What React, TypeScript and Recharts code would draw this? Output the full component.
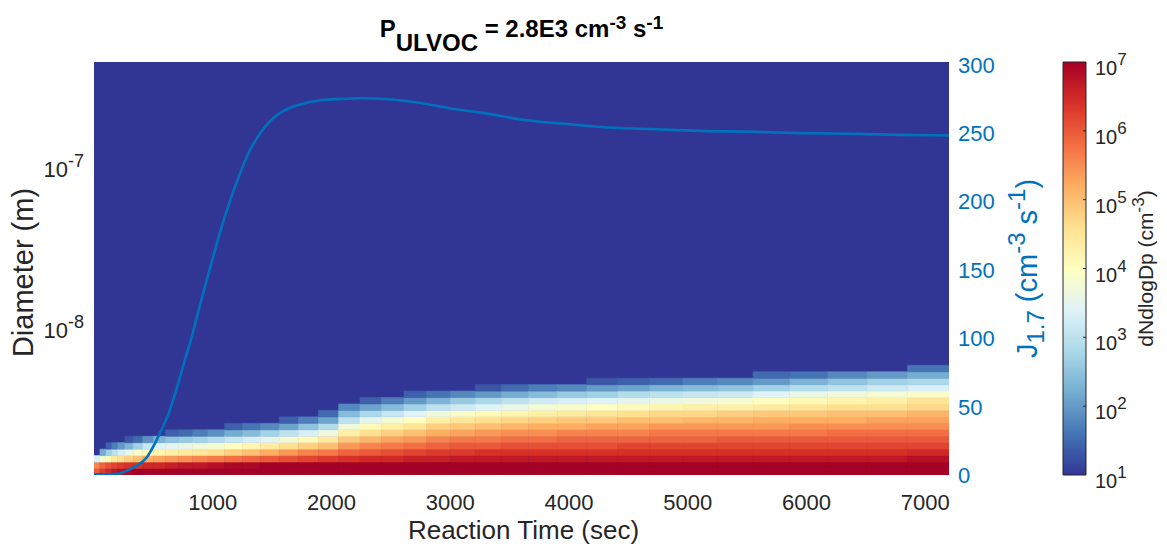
import React from 'react';
import { ComposedChart, Line, XAxis, YAxis, ReferenceArea, ReferenceLine } from 'recharts';

// ---- data ----

// time bin edges of the model output (s)
const timeEdges = [
  0, 50, 100, 150, 200, 260, 330, 410, 500, 600, 710, 830, 960, 1100, 1250, 1400, 1560, 1720,
  1890, 2060, 2240, 2420, 2610, 2800, 3000, 3210, 3430, 3660, 3900, 4150, 4410, 4680, 4960,
  5250, 5550, 5860, 6180, 6510, 6850, 7200,
];

// diameter bin edges (nm)
const diameterEdgesNm = [
  1.171, 1.285, 1.409, 1.546, 1.696, 1.861, 2.041, 2.239, 2.456, 2.695, 2.956, 3.243, 3.558,
  3.903, 4.282, 4.697, 5.153, 5.653, 6.202,
];

// log10 dNdlogDp (cm^-3) for every time column, smallest diameter bin first
const logConc: number[][] = [
  [6.0, 5.6, 3.3],
  [6.3, 5.9, 3.8, 2.2],
  [6.5, 6.1, 4.1, 2.7, 1.4],
  [6.7, 6.2, 4.4, 3.0, 1.7],
  [6.8, 6.3, 4.6, 3.3, 2.0],
  [6.9, 6.4, 4.8, 3.6, 2.3, 1.3],
  [7.0, 6.4, 5.0, 3.9, 2.7, 1.5],
  [7.1, 6.5, 5.2, 4.1, 3.1, 1.9],
  [7.1, 6.5, 5.3, 4.2, 3.4, 2.3],
  [7.2, 6.6, 5.4, 4.3, 3.5, 2.5, 1.4],
  [7.2, 6.7, 5.5, 4.4, 3.6, 2.6, 1.5],
  [7.3, 6.7, 5.6, 4.5, 3.7, 2.7, 1.7],
  [7.3, 6.8, 5.7, 4.6, 3.8, 2.9, 1.9],
  [7.3, 6.9, 5.8, 4.8, 4.0, 3.1, 2.2, 1.4],
  [7.4, 6.9, 5.9, 5.0, 4.2, 3.3, 2.4, 1.6],
  [7.4, 7.0, 6.0, 5.2, 4.4, 3.5, 2.7, 1.8],
  [7.4, 7.0, 6.1, 5.4, 4.6, 3.8, 3.0, 2.1, 1.4],
  [7.4, 7.0, 6.2, 5.6, 4.8, 4.1, 3.3, 2.5, 1.7],
  [7.5, 7.1, 6.3, 5.7, 5.0, 4.4, 3.7, 2.9, 2.1, 1.5],
  [7.5, 7.1, 6.4, 5.9, 5.4, 4.9, 4.3, 3.7, 3.0, 2.4, 1.8],
  [7.5, 7.1, 6.5, 6.0, 5.6, 5.1, 4.6, 4.1, 3.5, 2.8, 2.1, 1.4],
  [7.5, 7.2, 6.5, 6.1, 5.7, 5.3, 4.8, 4.3, 3.8, 3.1, 2.4, 1.7],
  [7.5, 7.2, 6.6, 6.2, 5.8, 5.4, 5.0, 4.5, 4.0, 3.4, 2.7, 2.0, 1.4],
  [7.5, 7.2, 6.6, 6.3, 5.9, 5.6, 5.2, 4.8, 4.3, 3.7, 3.0, 2.3, 1.6],
  [7.5, 7.2, 6.7, 6.3, 6.0, 5.7, 5.3, 4.9, 4.5, 3.9, 3.2, 2.6, 1.8],
  [7.5, 7.2, 6.7, 6.4, 6.0, 5.7, 5.4, 5.0, 4.6, 4.1, 3.4, 2.8, 2.0, 1.3],
  [7.5, 7.2, 6.7, 6.4, 6.1, 5.8, 5.5, 5.1, 4.7, 4.2, 3.6, 3.0, 2.2, 1.5],
  [7.5, 7.2, 6.7, 6.4, 6.1, 5.8, 5.5, 5.2, 4.8, 4.3, 3.8, 3.2, 2.4, 1.7],
  [7.6, 7.3, 6.7, 6.4, 6.1, 5.9, 5.6, 5.2, 4.9, 4.4, 3.9, 3.3, 2.6, 1.8],
  [7.6, 7.3, 6.7, 6.4, 6.1, 5.9, 5.6, 5.3, 4.9, 4.5, 4.0, 3.4, 2.7, 2.0, 1.3],
  [7.6, 7.3, 6.7, 6.4, 6.2, 5.9, 5.6, 5.3, 5.0, 4.6, 4.1, 3.5, 2.9, 2.1, 1.4],
  [7.6, 7.3, 6.7, 6.4, 6.2, 5.9, 5.7, 5.4, 5.0, 4.7, 4.2, 3.6, 3.0, 2.3, 1.5],
  [7.6, 7.3, 6.7, 6.4, 6.2, 5.9, 5.7, 5.4, 5.1, 4.7, 4.3, 3.7, 3.1, 2.4, 1.7],
  [7.6, 7.3, 6.7, 6.4, 6.2, 6.0, 5.7, 5.4, 5.1, 4.8, 4.3, 3.8, 3.2, 2.5, 1.8],
  [7.6, 7.3, 6.7, 6.4, 6.2, 6.0, 5.7, 5.4, 5.2, 4.9, 4.4, 4.0, 3.4, 2.7, 2.0, 1.5],
  [7.6, 7.3, 6.7, 6.4, 6.2, 6.0, 5.7, 5.5, 5.2, 4.9, 4.5, 4.1, 3.6, 2.9, 2.3, 1.6],
  [7.6, 7.3, 6.7, 6.4, 6.2, 6.0, 5.8, 5.5, 5.2, 5.0, 4.6, 4.2, 3.7, 3.0, 2.5, 1.8],
  [7.6, 7.3, 6.7, 6.4, 6.2, 6.0, 5.8, 5.5, 5.3, 5.0, 4.6, 4.3, 3.8, 3.2, 2.7, 2.0],
  [7.6, 7.3, 6.8, 6.5, 6.2, 6.0, 5.8, 5.5, 5.3, 5.1, 4.7, 4.5, 3.9, 3.3, 2.8, 2.2, 1.6],
];

// J1.7 nucleation rate (cm^-3 s^-1)
const jTime = [
  0, 100, 200, 276, 360, 445, 500, 557, 641, 712, 768, 810, 895, 979, 1063, 1148, 1232, 1316,
  1401, 1485, 1612, 1738, 1907, 2076, 2245, 2456, 2582, 2751, 3004, 3257, 3595, 3932, 4270,
  4692, 5114, 5536, 5958, 6380, 6802, 7200,
];
const jRate = [
  0.6, 0.6, 0.8, 3.1, 6.8, 13, 21, 31, 48, 68, 85, 97, 125, 152, 178, 201, 221, 238, 250, 259,
  267, 271, 274, 275, 275.5, 275, 274, 272, 268, 265, 260, 257, 254.5, 253, 251.6, 251, 250,
  249.5, 248.7, 248.2,
];

const timeTicks = [1000, 2000, 3000, 4000, 5000, 6000, 7000];
const diameterTicks = [1e-8, 1e-7];
const jTicks = [0, 50, 100, 150, 200, 250, 300];
const colorbarTicks = [1e1, 1e2, 1e3, 1e4, 1e5, 1e6, 1e7];

const DP_MIN = 1.17e-9;
const DP_MAX = 4.4e-7;
const T_MAX = 7200;
const J_MAX = 302;
const C_MIN = 1e1;
const C_MAX = 1e7;

// ---- styling helpers ----

const FONT = '"Liberation Sans", Arial, Helvetica, sans-serif';
const TXT = '#262626';
const J_COLOR = '#0072BD';
const TICK_FS = 22;
const SUP_FS = 18;

// RdYlBu, blue (low) to red (high)
const RDYLBU = [
  '#313695', '#4575b4', '#74add1', '#abd9e9', '#e0f3f8', '#ffffbf',
  '#fee090', '#fdae61', '#f46d43', '#d73027', '#a50026',
];

function hexToRgb(h: string) {
  return [parseInt(h.slice(1, 3), 16), parseInt(h.slice(3, 5), 16), parseInt(h.slice(5, 7), 16)];
}

function colorFor(logv: number) {
  const lo = Math.log10(C_MIN);
  const hi = Math.log10(C_MAX);
  const f = Math.min(1, Math.max(0, (logv - lo) / (hi - lo))) * (RDYLBU.length - 1);
  const i = Math.min(RDYLBU.length - 2, Math.floor(f));
  const r = f - i;
  const a = hexToRgb(RDYLBU[i]);
  const b = hexToRgb(RDYLBU[i + 1]);
  const c = a.map((v, k) => Math.round(v + (b[k] - v) * r));
  return `rgb(${c[0]},${c[1]},${c[2]})`;
}

const jRows = jTime.map((t, i) => ({ t, j: jRate[i] }));

const cells = logConc.flatMap((col, c) =>
  col.map((v, r) => ({
    key: `${c}-${r}`,
    x1: timeEdges[c],
    x2: timeEdges[c + 1],
    y1: diameterEdgesNm[r] * 1e-9,
    y2: diameterEdgesNm[r + 1] * 1e-9,
    color: colorFor(v),
  }))
);

// ---- ticks and labels ----

const TimeTick = (p: any) => (
  <text x={p.x} y={p.y + 33} textAnchor="middle" fontFamily={FONT} fontSize={TICK_FS} fill={TXT}>
    {p.payload.value}
  </text>
);

const DpTick = (p: any) => {
  const e = Math.round(Math.log10(p.payload.value));
  return (
    <text x={p.x - 8} y={p.y + 12} textAnchor="end" fontFamily={FONT} fontSize={TICK_FS} fill={TXT}>
      <tspan>10</tspan>
      <tspan dy={-10} fontSize={SUP_FS}>{e}</tspan>
    </text>
  );
};

const JTick = (p: any) => (
  <text x={p.x + 7} y={p.y + 8} textAnchor="start" fontFamily={FONT} fontSize={TICK_FS} fill={J_COLOR}>
    {p.payload.value}
  </text>
);

const CbTick = (p: any) => {
  const e = Math.round(Math.log10(p.payload.value));
  return (
    <text x={p.x + 7} y={p.y + 13} textAnchor="start" fontFamily={FONT} fontSize={20} fill={TXT}>
      <tspan>10</tspan>
      <tspan dy={-10} fontSize={17}>{e}</tspan>
    </text>
  );
};

const TimeLabel = (p: any) => {
  const vb = p.viewBox || { x: 94, y: 475, width: 855, height: 75 };
  return (
    <text x={vb.x + vb.width / 2 + 2} y={vb.y + 64} textAnchor="middle" fontFamily={FONT} fontSize={26} fill={TXT}>
      Reaction Time (sec)
    </text>
  );
};

const DpLabel = (p: any) => {
  const vb = p.viewBox || { x: 0, y: 62, width: 94, height: 413 };
  const cx = vb.x + 33;
  const cy = vb.y + vb.height / 2 + 4;
  return (
    <text x={cx} y={cy} transform={`rotate(-90 ${cx} ${cy})`} textAnchor="middle" fontFamily={FONT} fontSize={29} fill={TXT}>
      Diameter (m)
    </text>
  );
};

const JLabel = (p: any) => {
  const vb = p.viewBox || { x: 949, y: 62, width: 111, height: 413 };
  const cx = vb.x + 88;
  const cy = vb.y + vb.height / 2;
  return (
    <text x={cx} y={cy} transform={`rotate(-90 ${cx} ${cy})`} textAnchor="middle" fontFamily={FONT} fontSize={29} fill={J_COLOR}>
      <tspan>J</tspan>
      <tspan dy={7} fontSize={24}>1.7</tspan>
      <tspan dy={-7}> (cm</tspan>
      <tspan dy={-12} fontSize={24}>-3</tspan>
      <tspan dy={12}> s</tspan>
      <tspan dy={-12} fontSize={24}>-1</tspan>
      <tspan dy={12}>)</tspan>
    </text>
  );
};

const CbLabel = (p: any) => {
  const vb = p.viewBox || { x: 46, y: 62, width: 81, height: 413 };
  const cx = vb.x + 67;
  const cy = vb.y + vb.height / 2;
  return (
    <text x={cx} y={cy} transform={`rotate(-90 ${cx} ${cy})`} textAnchor="middle" fontFamily={FONT} fontSize={21} fill={TXT}>
      <tspan>dNdlogDp (cm</tspan>
      <tspan dy={-9} fontSize={17}>-3</tspan>
      <tspan dy={9}>)</tspan>
    </text>
  );
};

const cbRows = [
  { x: 0, v: C_MIN },
  { x: 1, v: C_MAX },
];

export default function App() {
  return (
    <div style={{ position: 'absolute', left: 0, top: 0, width: 1167, height: 550, background: '#fff' }}>
      <div
        style={{
          position: 'absolute',
          left: 94,
          top: 16,
          width: 855,
          textAlign: 'center',
          fontFamily: FONT,
          fontWeight: 'bold',
          fontSize: 24,
          lineHeight: '26px',
          color: '#000',
          whiteSpace: 'nowrap',
        }}
      >
        P<span style={{ position: 'relative', top: 14 }}>ULVOC</span> = 2.8E3 cm
        <span style={{ position: 'relative', top: -8, fontSize: 19 }}>-3</span> s
        <span style={{ position: 'relative', top: -8, fontSize: 19 }}>-1</span>
      </div>

      <div style={{ position: 'absolute', left: 0, top: 0 }}>
        <ComposedChart width={1060} height={550} data={jRows} margin={{ top: 62, right: 0, bottom: 0, left: 0 }}>
          <XAxis
            dataKey="t"
            type="number"
            domain={[0, T_MAX]}
            allowDataOverflow
            ticks={timeTicks}
            axisLine={false}
            tickLine={false}
            tickSize={0}
            height={75}
            tick={<TimeTick />}
            label={TimeLabel}
          />
          <YAxis
            yAxisId="dp"
            type="number"
            scale="log"
            domain={[DP_MIN, DP_MAX]}
            allowDataOverflow
            ticks={diameterTicks}
            axisLine={false}
            tickLine={false}
            tickSize={0}
            width={94}
            tick={<DpTick />}
            label={DpLabel}
          />
          <YAxis
            yAxisId="j"
            orientation="right"
            type="number"
            domain={[0, J_MAX]}
            allowDataOverflow
            ticks={jTicks}
            axisLine={false}
            tickLine={false}
            tickSize={0}
            width={111}
            tick={<JTick />}
            label={JLabel}
          />
          <ReferenceArea
            yAxisId="dp"
            x1={0}
            x2={T_MAX}
            y1={DP_MIN}
            y2={DP_MAX}
            fill={RDYLBU[0]}
            fillOpacity={1}
            stroke="none"
            ifOverflow="hidden"
          />
          {cells.map((c) => (
            <ReferenceArea
              key={c.key}
              yAxisId="dp"
              x1={c.x1}
              x2={c.x2}
              y1={c.y1}
              y2={c.y2}
              fill={c.color}
              fillOpacity={1}
              stroke={c.color}
              strokeWidth={0.6}
              ifOverflow="hidden"
            />
          ))}
          <Line
            yAxisId="j"
            dataKey="j"
            type="monotone"
            stroke={J_COLOR}
            strokeWidth={2.6}
            dot={false}
            activeDot={false}
            isAnimationActive={false}
          />
        </ComposedChart>
      </div>

      <div style={{ position: 'absolute', left: 1040, top: 0 }}>
        <ComposedChart width={127} height={550} data={cbRows} margin={{ top: 62, right: 0, bottom: 75, left: 23 }}>
          <defs>
            <linearGradient id="cbGrad" x1="0" y1="1" x2="0" y2="0">
              {RDYLBU.map((c, i) => (
                <stop key={c} offset={i / (RDYLBU.length - 1)} stopColor={c} />
              ))}
            </linearGradient>
          </defs>
          <XAxis dataKey="x" type="number" domain={[0, 1]} allowDataOverflow hide />
          <YAxis
            type="number"
            orientation="right"
            scale="log"
            domain={[C_MIN, C_MAX]}
            allowDataOverflow
            ticks={colorbarTicks}
            axisLine={false}
            tickLine={false}
            tickSize={0}
            width={81}
            tick={<CbTick />}
            label={CbLabel}
          />
          <ReferenceArea
            x1={0}
            x2={1}
            y1={C_MIN}
            y2={C_MAX}
            fill="url(#cbGrad)"
            fillOpacity={1}
            stroke={TXT}
            strokeWidth={1}
          />
          {colorbarTicks.slice(1, -1).map((v) => (
            <ReferenceLine
              key={v}
              segment={[
                { x: 0.87, y: v },
                { x: 1, y: v },
              ]}
              stroke={TXT}
              strokeWidth={1}
            />
          ))}
        </ComposedChart>
      </div>
    </div>
  );
}
